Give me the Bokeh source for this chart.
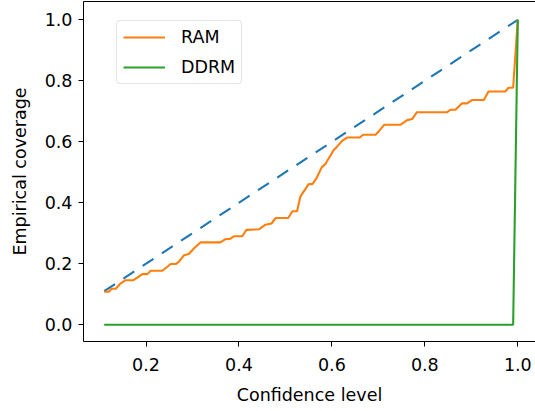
from bokeh.plotting import figure
from bokeh.models import (Range1d, FixedTicker, NumeralTickFormatter, LinearAxis,
                          Legend, LegendItem)
from bokeh.embed import file_html
from bokeh.resources import INLINE

# ---- data ----
diag_x = [0.11, 1.0]
diag_y = [0.11, 1.0]

ram_x = [0.11, 0.12, 0.126, 0.135, 0.145, 0.156, 0.173, 0.182, 0.192, 0.203,
         0.21, 0.235, 0.246, 0.253, 0.264, 0.271, 0.282, 0.292, 0.303, 0.317,
         0.36, 0.371, 0.38, 0.389, 0.407, 0.416, 0.443, 0.457, 0.47, 0.479,
         0.506, 0.515, 0.525, 0.532, 0.55, 0.558, 0.566, 0.578, 0.586, 0.604,
         0.611, 0.622, 0.633, 0.66, 0.667, 0.694, 0.703, 0.713, 0.748, 0.762,
         0.773, 0.783, 0.848, 0.855, 0.866, 0.88, 0.891, 0.902, 0.927, 0.937,
         0.973, 0.98, 0.99, 1.0]
ram_y = [0.108, 0.108, 0.118, 0.118, 0.135, 0.146, 0.146, 0.155, 0.166, 0.166,
         0.177, 0.177, 0.19, 0.199, 0.199, 0.207, 0.228, 0.232, 0.25, 0.27,
         0.27, 0.281, 0.281, 0.29, 0.29, 0.311, 0.313, 0.328, 0.332, 0.35,
         0.35, 0.372, 0.372, 0.42, 0.461, 0.461, 0.478, 0.516, 0.527, 0.573,
         0.584, 0.603, 0.614, 0.614, 0.623, 0.623, 0.638, 0.656, 0.656, 0.671,
         0.675, 0.697, 0.697, 0.705, 0.705, 0.726, 0.726, 0.737, 0.737, 0.765,
         0.765, 0.777, 0.777, 1.0]

ddrm_x = [0.11, 0.99, 1.0]
ddrm_y = [0.0, 0.0, 1.0]

x_ticks = [0.2, 0.4, 0.6, 0.8, 1.0]
y_ticks = [0.0, 0.2, 0.4, 0.6, 0.8, 1.0]

FONT = "DejaVu Sans"
FS = "17.5px"

p = figure(width=535, height=411, output_backend="svg", toolbar_location=None,
           x_range=Range1d(0.0655, 1.0381), y_range=Range1d(-0.055, 1.06),
           min_border_left=83, min_border_right=0, min_border_top=1,
           min_border_bottom=70)
p.outline_line_color = None
p.grid.visible = False
p.background_fill_color = "white"
p.border_fill_color = "white"

for ax in (p.xaxis[0], p.yaxis[0]):
    ax.major_tick_in = 0
    ax.major_tick_out = 5
    ax.minor_tick_in = 0
    ax.minor_tick_out = 0
    ax.axis_line_color = "black"
    ax.major_tick_line_color = "black"
    ax.major_label_text_font = FONT
    ax.major_label_text_font_size = FS
    ax.major_label_text_color = "black"
    ax.axis_label_text_font = FONT
    ax.axis_label_text_font_size = FS
    ax.axis_label_text_font_style = "normal"
    ax.axis_label_text_color = "black"
    ax.formatter = NumeralTickFormatter(format="0.0")

p.xaxis.ticker = FixedTicker(ticks=x_ticks)
p.yaxis.ticker = FixedTicker(ticks=y_ticks)
p.xaxis.axis_label = "Confidence level"
p.yaxis.axis_label = "Empirical coverage"
p.xaxis.major_label_standoff = 11
p.xaxis.axis_label_standoff = 11
p.yaxis.major_label_standoff = 6
p.yaxis.axis_label_standoff = 12

top = LinearAxis(ticker=FixedTicker(ticks=[]), major_label_text_font_size="0px",
                 major_tick_out=0, major_tick_in=0, minor_tick_out=0,
                 minor_tick_in=0, major_label_standoff=0,
                 axis_line_color="black")
p.add_layout(top, "above")

p.line(diag_x, diag_y, line_color="#1f77b4", line_width=2.1, line_dash="13 10")
r_ram = p.line(ram_x, ram_y, line_color="#ff7f0e", line_width=2.1)
r_ddrm = p.line(ddrm_x, ddrm_y, line_color="#2ca02c", line_width=2.1)

legend = Legend(items=[LegendItem(label="RAM", renderers=[r_ram]),
                       LegendItem(label="DDRM", renderers=[r_ddrm])],
                location=(33, 257))
legend.label_text_font = FONT
legend.label_text_font_size = FS
legend.label_text_color = "black"
legend.glyph_width = 42
legend.glyph_height = 20
legend.label_height = 20
legend.label_standoff = 16
legend.padding = 6
legend.spacing = 10
legend.margin = 0
legend.border_line_color = "#cccccc"
legend.border_line_width = 1
legend.background_fill_alpha = 0.8
if "border_radius" in Legend.properties():
    legend.border_radius = 4
p.add_layout(legend, "center")

open("out.html", "w").write(file_html(p, INLINE))
